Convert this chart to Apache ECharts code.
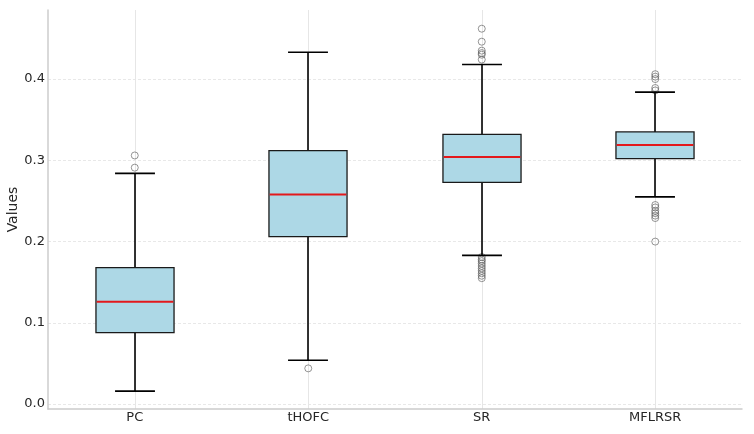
<!DOCTYPE html>
<html>
<head>
<meta charset="utf-8">
<script src="https://cdn.jsdelivr.net/npm/echarts@6/dist/echarts.min.js"></script>
<style>
html,body{margin:0;padding:0;background:#fff;}
#c{width:754px;height:434px;}
</style>
</head>
<body>
<div id="c"></div>
<script>
const categories = ['PC', 'tHOFC', 'SR', 'MFLRSR'];
const whiskerLow = [0.016, 0.054, 0.183, 0.255];
const q1 = [0.088, 0.206, 0.273, 0.302];
const median = [0.126, 0.258, 0.304, 0.319];
const q3 = [0.168, 0.312, 0.332, 0.335];
const whiskerHigh = [0.284, 0.433, 0.418, 0.384];
const outliersPC = [0.306, 0.291];
const outliersTHOFC = [0.044];
const outliersSR = [0.462, 0.446, 0.435, 0.432, 0.430, 0.424,
                    0.181, 0.178, 0.176, 0.173, 0.170, 0.167, 0.164, 0.161, 0.158, 0.155];
const outliersMFLRSR = [0.406, 0.403, 0.400, 0.389, 0.386,
                        0.245, 0.242, 0.238, 0.235, 0.232, 0.229, 0.200];

const outlierGroups = [outliersPC, outliersTHOFC, outliersSR, outliersMFLRSR];
const boxData = categories.map((c, i) => [i, whiskerLow[i], q1[i], median[i], q3[i], whiskerHigh[i]]);
const outlierData = [];
outlierGroups.forEach((arr, i) => arr.forEach(v => outlierData.push([categories[i], v])));

const FONT = 'DejaVu Sans';
const TXT = '#262626';

function renderBox(params, api) {
  const i = api.value(0);
  const pLow = api.coord([i, api.value(1)]);
  const pQ1 = api.coord([i, api.value(2)]);
  const pMed = api.coord([i, api.value(3)]);
  const pQ3 = api.coord([i, api.value(4)]);
  const pHigh = api.coord([i, api.value(5)]);
  const band = api.size([1, 0])[0];
  const bw = band * 0.45;
  const cw = band * 0.23;
  const x = Math.round(pMed[0]);
  const black = {stroke: '#000', lineWidth: 1.6};
  return {
    type: 'group',
    children: [
      {type: 'line', shape: {x1: x, y1: pLow[1], x2: x, y2: pQ1[1]}, style: black},
      {type: 'line', shape: {x1: x, y1: pQ3[1], x2: x, y2: pHigh[1]}, style: black},
      {type: 'line', shape: {x1: x - cw / 2, y1: pLow[1], x2: x + cw / 2, y2: pLow[1]}, style: black},
      {type: 'line', shape: {x1: x - cw / 2, y1: pHigh[1], x2: x + cw / 2, y2: pHigh[1]}, style: black},
      {type: 'rect', shape: {x: x - bw / 2, y: pQ3[1], width: bw, height: pQ1[1] - pQ3[1]},
        style: {fill: '#add8e6', stroke: '#1a1a1a', lineWidth: 1.3}},
      {type: 'line', shape: {x1: x - bw / 2 + 0.7, y1: pMed[1], x2: x + bw / 2 - 0.7, y2: pMed[1]},
        style: {stroke: '#e3191c', lineWidth: 2}}
    ]
  };
}

const chart = echarts.init(document.getElementById('c'), null, {renderer: 'canvas'});
chart.setOption({
  animation: false,
  backgroundColor: '#fff',
  grid: {left: 48, right: 12, top: 10, bottom: 25, containLabel: false, outerBoundsMode: 'none'},
  xAxis: {
    type: 'category',
    data: categories,
    axisLine: {show: true, onZero: false, lineStyle: {color: '#cccccc', width: 1.5}},
    axisTick: {show: false},
    axisLabel: {color: TXT, fontFamily: FONT, fontSize: 13, margin: 2},
    splitLine: {show: false}
  },
  yAxis: {
    type: 'value',
    min: -0.006,
    max: 0.485,
    name: 'Values',
    nameLocation: 'middle',
    nameGap: 28,
    nameMoveOverlap: false,
    nameTextStyle: {color: TXT, fontFamily: FONT, fontSize: 14},
    axisLine: {show: true, lineStyle: {color: '#cccccc', width: 1.5}},
    axisTick: {show: false},
    axisLabel: {
      color: TXT, fontFamily: FONT, fontSize: 13, margin: 3,
      showMinLabel: false, showMaxLabel: false,
      formatter: v => v.toFixed(1)
    },
    splitLine: {
      show: true, showMinLine: false, showMaxLine: false,
      lineStyle: {color: '#e2e2e2', type: [3, 2], width: 0.8}
    }
  },
  series: [
    {
      type: 'scatter',
      z: 1,
      data: outlierData,
      symbol: 'circle',
      symbolSize: 7,
      itemStyle: {color: 'rgba(0,0,0,0)', borderColor: 'rgba(80,80,80,0.75)', borderWidth: 1},
      silent: true,
      markLine: {
        z: 0,
        silent: true,
        symbol: ['none', 'none'],
        label: {show: false},
        lineStyle: {color: '#e6e6e6', type: 'solid', width: 1},
        data: categories.map(c => ({xAxis: c}))
      }
    },
    {
      type: 'custom',
      z: 2,
      renderItem: renderBox,
      encode: {x: 0, y: [1, 2, 3, 4, 5]},
      data: boxData,
      silent: true
    }
  ]
});
</script>
</body>
</html>
